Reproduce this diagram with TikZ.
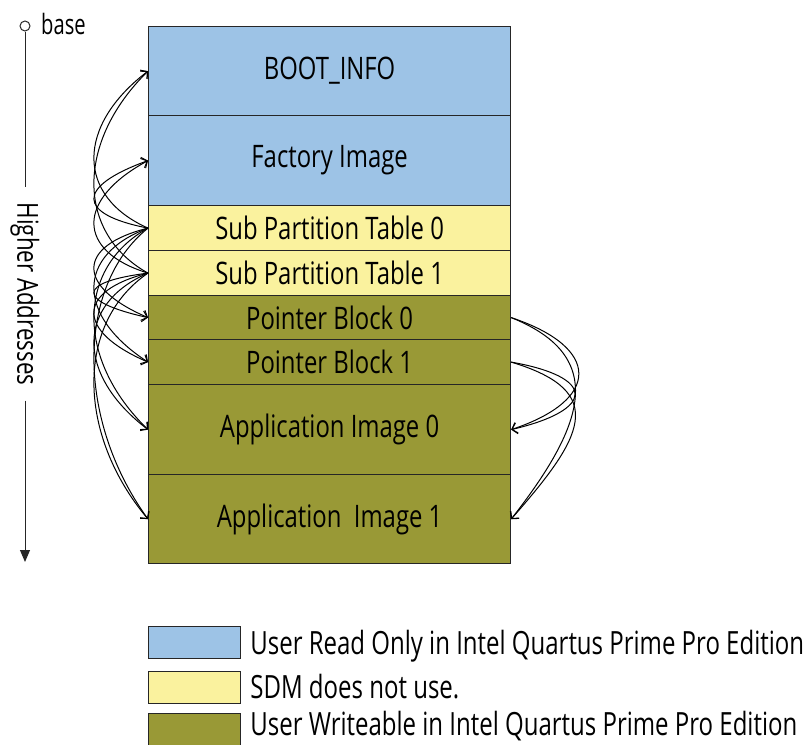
\documentclass[tikz,border=0pt]{standalone}
\usepackage{fontspec}
\setmainfont{Open Sans}[FakeStretch=0.72]
\newfontfamily\blkfont{Open Sans}[FakeStretch=0.77]
\newfontfamily\legfont{Open Sans}[FakeStretch=0.75]
\usetikzlibrary{arrows.meta,calc}
\definecolor{roblue}{RGB}{157,195,230}
\definecolor{sdmyellow}{RGB}{250,242,158}
\definecolor{wrolive}{RGB}{153,153,54}
\begin{document}
\begin{tikzpicture}[x=1pt,y=-1pt,
  blk/.style={draw=black!85, line width=1.2pt, minimum width=362pt,
    anchor=north west, inner sep=0pt, font=\blkfont\fontsize{31}{33}\selectfont},
  link/.style={line width=1pt, -{Straight Barb[length=5pt,width=11pt]}},
  legbox/.style={draw=black!85, line width=1.2pt, minimum width=92pt,
    minimum height=32pt, anchor=north west, inner sep=0pt},
  legtext/.style={anchor=base west, inner sep=0pt, font=\legfont\fontsize{32}{34}\selectfont},
  axis/.style={line width=1pt, draw=black!85}
]
\useasboundingbox (0,0) rectangle (805,744);

% memory map
\node[blk, fill=roblue, minimum height=89pt] (boot) at (148,26) {BOOT\_INFO};
\node[blk, fill=roblue, minimum height=90pt] (fact) at (148,115) {Factory Image};
\node[blk, fill=sdmyellow, minimum height=45pt] (spt0) at (148,205) {Sub Partition Table 0};
\node[blk, fill=sdmyellow, minimum height=45pt] (spt1) at (148,250) {Sub Partition Table 1};
\node[blk, fill=wrolive, minimum height=44pt] (pb0) at (148,295) {Pointer Block 0};
\node[blk, fill=wrolive, minimum height=45pt] (pb1) at (148,339) {Pointer Block 1};
\node[blk, fill=wrolive, minimum height=90pt] (ai0) at (148,384) {Application Image 0};
\node[blk, fill=wrolive, minimum height=89pt] (ai1) at (148,474) {Application\ \ Image 1};

% sub partition tables point at every other region
\draw[link] (spt0.west) .. controls +(-72,-32) and +(-72,55) .. (boot.west);
\draw[link] (spt0.west) .. controls +(-72,-14) and +(-72,26) .. (fact.west);
\draw[link] (spt0.west) .. controls +(-72,18) and +(-72,-31) .. (pb0.west);
\draw[link] (spt0.west) .. controls +(-72,27) and +(-72,-47) .. (pb1.west);
\draw[link] (spt0.west) .. controls +(-72,40) and +(-72,-70) .. (ai0.west);
\draw[link] (spt0.west) .. controls +(-72,58) and +(-72,-100) .. (ai1.west);
\draw[link] (spt1.west) .. controls +(-72,-40) and +(-72,71) .. (boot.west);
\draw[link] (spt1.west) .. controls +(-72,-22) and +(-72,39) .. (fact.west);
\draw[link] (spt1.west) .. controls +(-72,9) and +(-72,-16) .. (pb0.west);
\draw[link] (spt1.west) .. controls +(-72,18) and +(-72,-31) .. (pb1.west);
\draw[link] (spt1.west) .. controls +(-72,31) and +(-72,-55) .. (ai0.west);
\draw[link] (spt1.west) .. controls +(-72,49) and +(-72,-86) .. (ai1.west);

% pointer blocks point at the application images
\draw[link] (pb0.east) .. controls +(90,30) and +(90,-30) .. (ai0.east);
\draw[link] (pb1.east) .. controls +(85,15) and +(85,-20) .. (ai0.east);
\draw[link] (pb0.east) .. controls +(100,40) and +(70,-90) .. (ai1.east);
\draw[link] (pb1.east) .. controls +(100,30) and +(70,-80) .. (ai1.east);

% address direction
\node[circle, draw=black!85, line width=1pt, minimum size=10pt, inner sep=0pt] (base) at (25,26) {};
\node[anchor=base west, inner sep=0pt, font=\fontsize{28}{30}\selectfont] (baselbl) at (41,34) {base};
\node[rotate=-90, inner xsep=15pt, inner ysep=0pt, font=\blkfont\fontsize{29}{31}\selectfont] (higher) at (25,294) {Higher Addresses};
\coordinate (addrend) at (25,562);
\draw[axis] (base) -- (higher.west);
\draw[axis, -{Triangle[length=12pt,width=10pt]}] (higher.east) -- (addrend);

% legend
\node[legbox, fill=roblue] (lg1) at (148,626) {};
\node[legbox, fill=sdmyellow] (lg2) at (148,671) {};
\node[legbox, fill=wrolive] (lg3) at (148,713) {};
\node[legtext] (lt1) at ($(lg1.east)+(9,12)$) {User Read Only in Intel Quartus Prime Pro Edition};
\node[legtext] (lt2) at ($(lg2.east)+(9,11)$) {SDM does not use.};
\node[legtext] (lt3) at ($(lg3.east)+(9,6)$) {User Writeable in Intel Quartus Prime Pro Edition};
\end{tikzpicture}
\end{document}
